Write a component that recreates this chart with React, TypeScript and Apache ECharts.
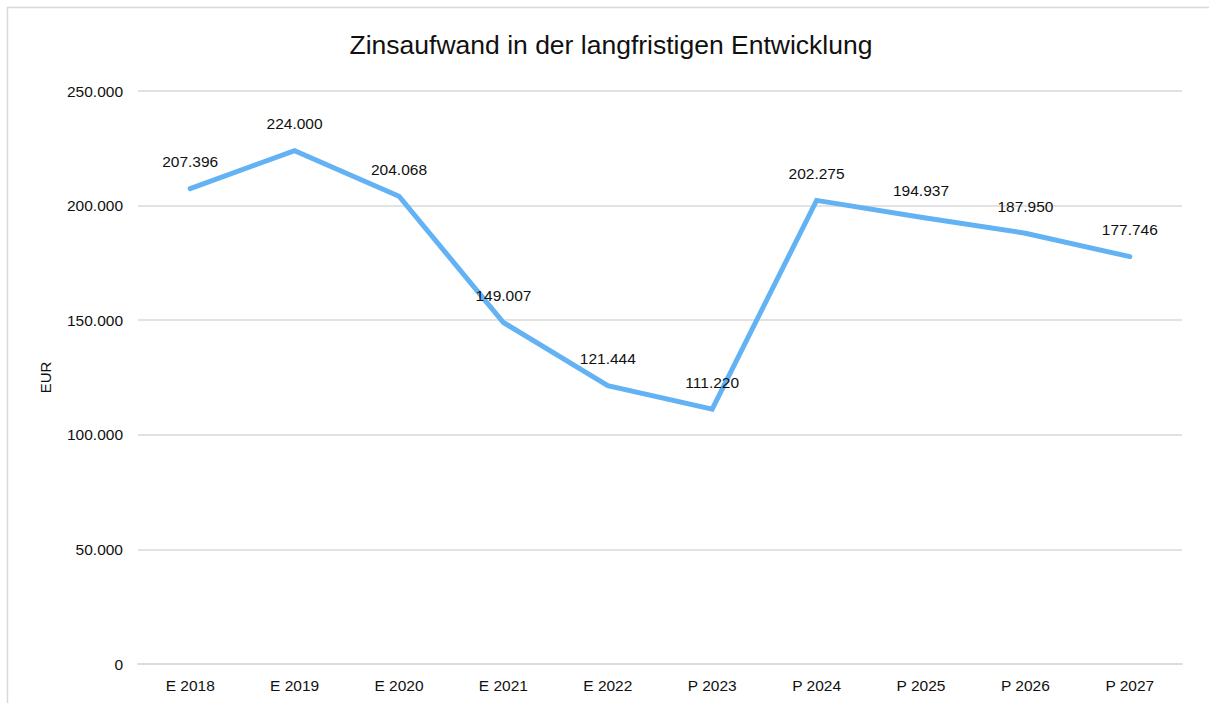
import React, { useEffect, useRef } from "react";
import * as echarts from "echarts";

const categories = ["E 2018", "E 2019", "E 2020", "E 2021", "E 2022", "P 2023", "P 2024", "P 2025", "P 2026", "P 2027"];
const values = [207396, 224000, 204068, 149007, 121444, 111220, 202275, 194937, 187950, 177746];
const titleText = "Zinsaufwand in der langfristigen Entwicklung";
const yAxisName = "EUR";

const fmt = (v: number) => String(Math.round(v)).replace(/\B(?=(\d{3})+(?!\d))/g, ".");

export default function App() {
  const ref = useRef<HTMLDivElement>(null);
  useEffect(() => {
    document.body.style.margin = "0";
    const chart = echarts.init(ref.current!, undefined, { renderer: "svg" });
    const font = "'Liberation Sans', Arial, Helvetica, sans-serif";
    chart.setOption({
      animation: false,
      backgroundColor: "#ffffff",
      textStyle: { fontFamily: font },
      title: {
        text: titleText,
        left: 606,
        textAlign: "center",
        top: 26,
        textStyle: { fontFamily: font, fontSize: 26.5, fontWeight: "normal", color: "#111" },
      },
      graphic: [
        {
          type: "rect",
          shape: { x: 7.5, y: 7.5, width: 1400, height: 900 },
          style: { fill: "none", stroke: "#d9d9d9", lineWidth: 1.5 },
          silent: true,
          z: -1,
        },
      ],
      grid: { left: 138, right: 27, top: 91, bottom: 39, containLabel: false },
      xAxis: {
        type: "category",
        data: categories,
        boundaryGap: true,
        axisLine: { show: true, lineStyle: { color: "#d9d9d9", width: 1.5 } },
        axisTick: { show: false },
        axisLabel: { color: "#111", fontSize: 15.5, margin: 13, fontFamily: font },
      },
      yAxis: {
        type: "value",
        min: 0,
        max: 250000,
        interval: 50000,
        name: yAxisName,
        nameLocation: "middle",
        nameGap: 85,
        nameRotate: 90,
        nameTextStyle: { color: "#111", fontSize: 15, fontFamily: font },
        axisLine: { show: false },
        axisTick: { show: false },
        axisLabel: { color: "#111", fontSize: 15.5, margin: 15, formatter: (v: number) => fmt(v), fontFamily: font },
        splitLine: { lineStyle: { color: "#d9d9d9", width: 1.5 } },
      },
      series: [
        {
          type: "line",
          data: values,
          showSymbol: true,
          symbol: "circle",
          symbolSize: 2,
          lineStyle: { color: "#63b3f4", width: 5, cap: "round", join: "miter" },
          itemStyle: { color: "rgba(99,179,244,0)", borderWidth: 0 },
          label: {
            show: true,
            position: "top",
            distance: 18,
            color: "#111",
            fontSize: 15.5,
            fontFamily: font,
            formatter: (p: any) => fmt(p.value),
          },
        },
      ],
    });
    return () => chart.dispose();
  }, []);
  return <div ref={ref} style={{ width: 1209, height: 703 }} />;
}
